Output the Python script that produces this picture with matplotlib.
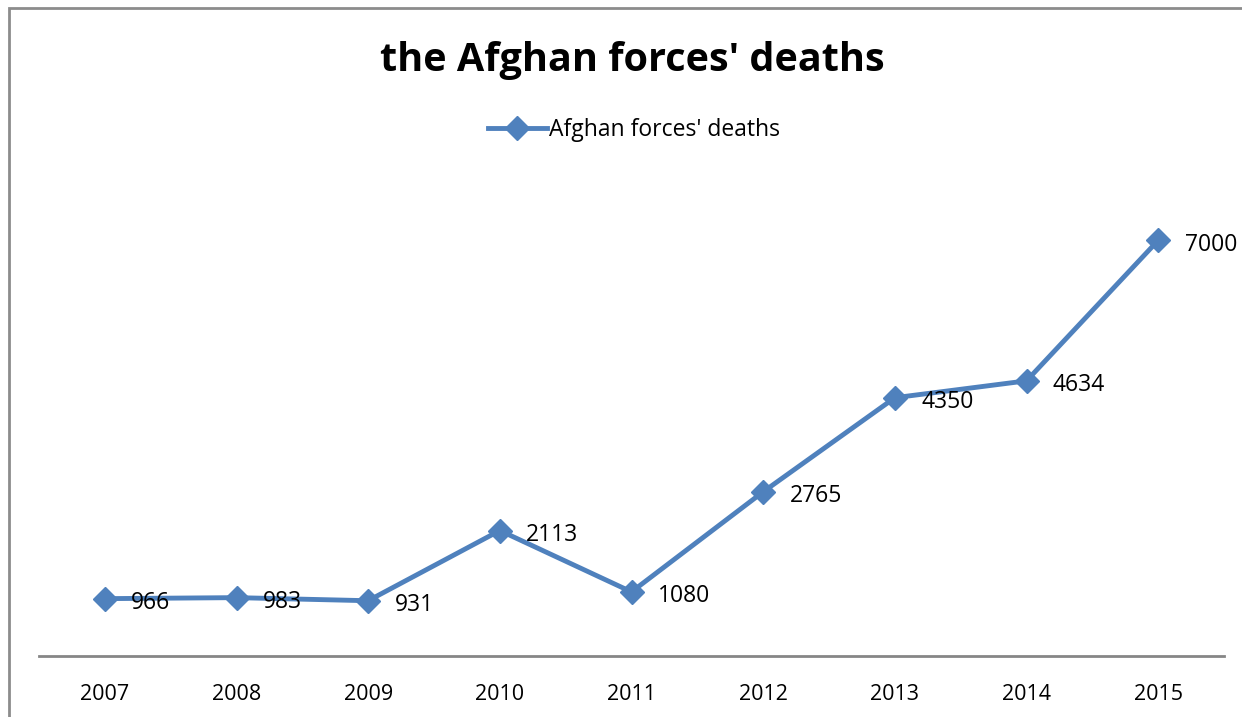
import matplotlib.pyplot as plt
from matplotlib.patches import Rectangle

years = ['2007', '2008', '2009', '2010', '2011', '2012', '2013', '2014', '2015']
deaths = [966, 983, 931, 2113, 1080, 2765, 4350, 4634, 7000]

lineColor = '#4F81BD'
plt.rcParams['font.family'] = ['Open Sans', 'DejaVu Sans']

fig = plt.figure(figsize=(12.42, 7.17), dpi=100)

# chart border (only top and left show in the crop)
fig.add_artist(Rectangle((9 / 1242, -0.1), 1.2, 1.1 - 8 / 717,
                         transform=fig.transFigure, fill=False,
                         edgecolor='#8C8C8C', linewidth=2))

ax = fig.add_axes([39 / 1242, 1 - 656 / 717, (1224 - 39) / 1242, (656 - 181) / 717])
xAxis = range(len(years))
ax.plot(xAxis, deaths, color=lineColor, linewidth=3.5, marker='D',
        markersize=12, label="Afghan forces' deaths")

for x, v in zip(xAxis, deaths):
    ax.annotate(str(v), (x, v), xytext=(19, -3), textcoords='offset points',
                ha='left', va='center', fontsize=16.5)

ax.set_xlim(-0.5, len(years) - 0.5)
ax.set_ylim(0, 8000)
ax.set_xticks(list(xAxis))
ax.set_xticklabels(years, fontsize=15.5)
ax.tick_params(axis='x', length=0, pad=20)
ax.set_yticks([])
for side in ['top', 'right', 'left']:
    ax.spines[side].set_visible(False)
ax.spines['bottom'].set_color('#868686')
ax.spines['bottom'].set_linewidth(2)

fig.text(632 / 1242, 1 - 61 / 717, "the Afghan forces' deaths", ha='center',
         va='center', fontsize=28.5, fontweight='bold')
fig.legend(loc='center', bbox_to_anchor=(634 / 1242, 1 - 130 / 717),
           frameon=False, fontsize=16.5, handlelength=2.6, handletextpad=0.1)

fig.savefig('out.png', dpi=100)
